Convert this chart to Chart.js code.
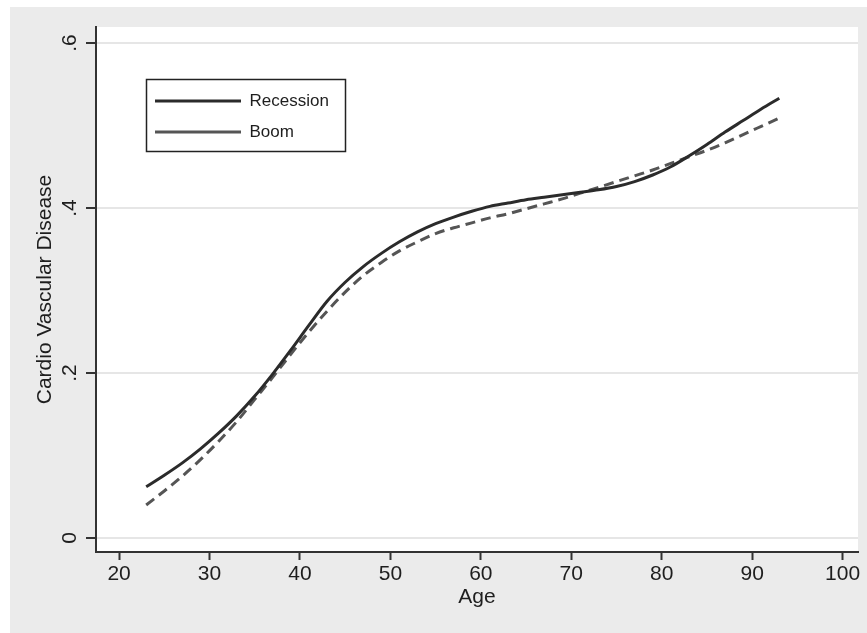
<!DOCTYPE html>
<html>
<head>
<meta charset="utf-8">
<script src="https://cdn.jsdelivr.net/npm/chart.js@4/dist/chart.umd.min.js"></script>
<style>
  html, body { margin: 0; padding: 0; background: #ffffff; }
  #wrap { width: 867px; height: 633px; }
</style>
</head>
<body>
<div id="wrap"><canvas id="c" width="867" height="633"></canvas></div>
<script>
// ---- data ----
const ages = [23,25,27,29,31,33,35,37,39,41,43,45,47,49,51,53,55,57,59,61,63,65,67,69,71,73,75,77,79,81,83,85,87,89,91,93];
const recession = [0.062,0.076,0.091,0.108,0.127,0.148,0.172,0.199,0.228,0.258,0.287,0.310,0.329,0.345,0.359,0.371,0.381,0.389,0.396,0.402,0.406,0.410,0.413,0.416,0.419,0.422,0.426,0.432,0.440,0.450,0.463,0.477,0.492,0.506,0.520,0.533];
const boom = [0.040,0.057,0.075,0.095,0.117,0.141,0.168,0.195,0.223,0.250,0.275,0.298,0.318,0.334,0.348,0.359,0.369,0.376,0.382,0.388,0.393,0.399,0.405,0.411,0.418,0.425,0.432,0.439,0.446,0.454,0.462,0.470,0.479,0.489,0.499,0.509];
const seriesNames = ['Recession', 'Boom'];
const yTickValues = [0, 0.2, 0.4, 0.6];
const yTickLabels = ['0', '.2', '.4', '.6'];
const xTickValues = [20, 30, 40, 50, 60, 70, 80, 90, 100];
const xTitle = 'Age';
const yTitle = 'Cardio Vascular Disease';

const toPoints = (xs, ys) => xs.map((x, i) => ({ x: x, y: ys[i] }));

const FONT = "'Liberation Sans', Arial, Helvetica, sans-serif";
const TXT = '#1e1e1e';

const bgPlugin = {
  id: 'bgPlugin',
  beforeDraw(chart) {
    const { ctx, chartArea: a, width, height } = chart;
    ctx.save();
    ctx.fillStyle = '#ffffff';
    ctx.fillRect(0, 0, width, height);
    ctx.fillStyle = '#ebebeb';
    ctx.fillRect(10, 7, width - 10, height - 7);
    ctx.fillStyle = '#ffffff';
    ctx.fillRect(a.left, a.top, a.right - a.left, a.bottom - a.top);
    ctx.restore();
  }
};

const legendPlace = {
  id: 'legendPlace',
  afterLayout(chart) {
    const lg = chart.legend;
    if (!lg) return;
    lg.left = 141; lg.top = 78.5;
    lg.width = 205; lg.height = 220;
    lg.right = lg.left + lg.width; lg.bottom = lg.top + lg.height;
  },
  afterDraw(chart) {
    const ctx = chart.ctx;
    ctx.save();
    ctx.strokeStyle = '#222222';
    ctx.lineWidth = 1.5;
    ctx.strokeRect(146.5, 79.5, 199, 72);
    ctx.restore();
  }
};

new Chart(document.getElementById('c'), {
  type: 'line',
  data: {
    datasets: [
      {
        label: seriesNames[0],
        data: toPoints(ages, recession),
        borderColor: '#2b2b2b',
        backgroundColor: '#2b2b2b',
        borderWidth: 3,
        pointRadius: 0,
        pointStyle: 'line',
        cubicInterpolationMode: 'monotone',
        fill: false
      },
      {
        label: seriesNames[1],
        data: toPoints(ages, boom),
        borderColor: '#555555',
        backgroundColor: '#555555',
        borderWidth: 3,
        borderDash: [10, 6],
        pointRadius: 0,
        pointStyle: 'line',
        cubicInterpolationMode: 'monotone',
        fill: false
      }
    ]
  },
  options: {
    responsive: false,
    animation: false,
    devicePixelRatio: 1,
    layout: { padding: { left: 10, top: 27, right: 9, bottom: 0 } },
    plugins: {
      legend: {
        display: true,
        position: 'chartArea',
        align: 'start',
        labels: {
          usePointStyle: true,
          pointStyle: 'line',
          pointStyleWidth: 86,
          padding: 14,
          color: TXT,
          font: { family: FONT, size: 17 }
        }
      },
      tooltip: { enabled: false }
    },
    scales: {
      x: {
        type: 'linear',
        min: 17.45,
        max: 101.7,
        afterBuildTicks: (s) => { s.ticks = xTickValues.map(v => ({ value: v })); },
        afterFit: (s) => { s.height = 81; },
        ticks: {
          autoSkip: false,
          maxRotation: 0,
          minRotation: 0,
          padding: 2,
          color: TXT,
          font: { family: FONT, size: 21, lineHeight: 1.2 },
          callback: (v) => String(v)
        },
        grid: {
          drawOnChartArea: false,
          drawTicks: true,
          tickLength: 8,
          tickColor: '#333333',
          tickWidth: 2
        },
        border: { display: true, color: '#333333', width: 2 },
        title: {
          display: true,
          text: xTitle,
          color: TXT,
          font: { family: FONT, size: 21, lineHeight: 1.2 },
          padding: { top: 0, bottom: 23 }
        }
      },
      y: {
        type: 'linear',
        min: -0.017,
        max: 0.6194,
        afterBuildTicks: (s) => { s.ticks = yTickValues.map(v => ({ value: v })); },
        afterFit: (s) => { s.width = 86; },
        ticks: {
          autoSkip: false,
          minRotation: 90,
          maxRotation: 90,
          crossAlign: 'center',
          padding: 7,
          color: TXT,
          font: { family: FONT, size: 21, lineHeight: 1.2 },
          callback: (v, i) => yTickLabels[i]
        },
        grid: {
          color: '#e6e6e6',
          lineWidth: 2,
          drawTicks: true,
          tickLength: 10,
          tickColor: '#333333',
          tickWidth: 2
        },
        border: { display: true, color: '#333333', width: 2 },
        title: {
          display: true,
          text: yTitle,
          color: TXT,
          font: { family: FONT, size: 21, lineHeight: 1.2 },
          padding: { top: 23, bottom: 0 }
        }
      }
    }
  },
  plugins: [bgPlugin, legendPlace]
});
</script>
</body>
</html>
